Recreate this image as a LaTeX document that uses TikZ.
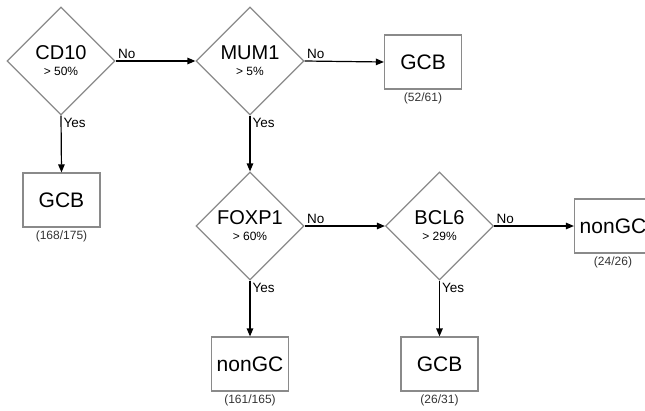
\documentclass[tikz,border=0pt]{standalone}
\usepackage{fontspec}
\setmainfont{Liberation Sans}
\usetikzlibrary{positioning, shapes.geometric, arrows.meta}
\definecolor{boxgray}{HTML}{8A8A8A}
\newcommand{\cutfont}{\fontsize{12}{14}\selectfont}

\begin{document}
\begin{tikzpicture}[
		x=1pt, y=-1pt,
		test/.style={diamond, draw=boxgray, line width=1.2pt, minimum width=108pt, minimum height=108pt, inner sep=0pt, align=center, font=\fontsize{20}{20}\selectfont},
		leaf/.style={rectangle, draw=boxgray, line width=1.2pt, minimum width=77pt, minimum height=54pt, font=\fontsize{21}{24}\selectfont},
		count/.style={font=\fontsize{12}{14}\selectfont, text=black!80, inner sep=1pt},
		arr/.style={-{Triangle[length=8pt,width=6.5pt]}, line width=1.2pt},
		ans/.style={font=\fontsize{13.5}{15}\selectfont, inner sep=2pt}]
		\useasboundingbox (0,0) rectangle (645,410);
		\clip (0,0) rectangle (645,410);

		\node[test] (cd10)  at (61,61)    {CD10\\[-4pt]{\cutfont > 50\%}};
		\node[test] (mum1)  at (250,61)   {MUM1\\[-4pt]{\cutfont > 5\%}};
		\node[test] (foxp1) at (250,226)  {FOXP1\\[-4pt]{\cutfont > 60\%}};
		\node[test] (bcl6)  at (439.5,226) {BCL6\\[-4pt]{\cutfont > 29\%}};

		\node[leaf] (gcba)   at (61.5,200)  {GCB};
		\node[leaf] (gcbb)   at (423,62)    {GCB};
		\node[leaf] (nongca) at (613,226)   {nonGC};
		\node[leaf] (nongcb) at (250,364)   {nonGC};
		\node[leaf] (gcbc)   at (439.5,364) {GCB};

		\node[count, below=2pt of gcba]   (gcbanum)   {(168/175)};
		\node[count, below=2pt of gcbb]   (gcbbnum)   {(52/61)};
		\node[count, below=2pt of nongca] (nongcanum) {(24/26)};
		\node[count, below=2pt of nongcb] (nongcbnum) {(161/165)};
		\node[count, below=2pt of gcbc]   (gcbcnum)   {(26/31)};

		\draw[arr] (cd10.east)  -- node[ans, pos=0, anchor=south west] {No}  (mum1.west);
		\draw[arr] (cd10.south) -- node[ans, pos=0, anchor=north west] {Yes} (gcba.north);
		\draw[arr] (mum1.east)  -- node[ans, pos=0, anchor=south west] {No}  (gcbb.west);
		\draw[arr] (mum1.south) -- node[ans, pos=0, anchor=north west] {Yes} (foxp1.north);
		\draw[arr] (foxp1.east) -- node[ans, pos=0, anchor=south west] {No}  (bcl6.west);
		\draw[arr] (foxp1.south) -- node[ans, pos=0, anchor=north west] {Yes} (nongcb.north);
		\draw[arr] (bcl6.east)  -- node[ans, pos=0, anchor=south west] {No}  (bcl6.east -| nongca.west);
		\draw[arr] (bcl6.south) -- node[ans, pos=0, anchor=north west] {Yes} (gcbc.north);
\end{tikzpicture}
\end{document}
